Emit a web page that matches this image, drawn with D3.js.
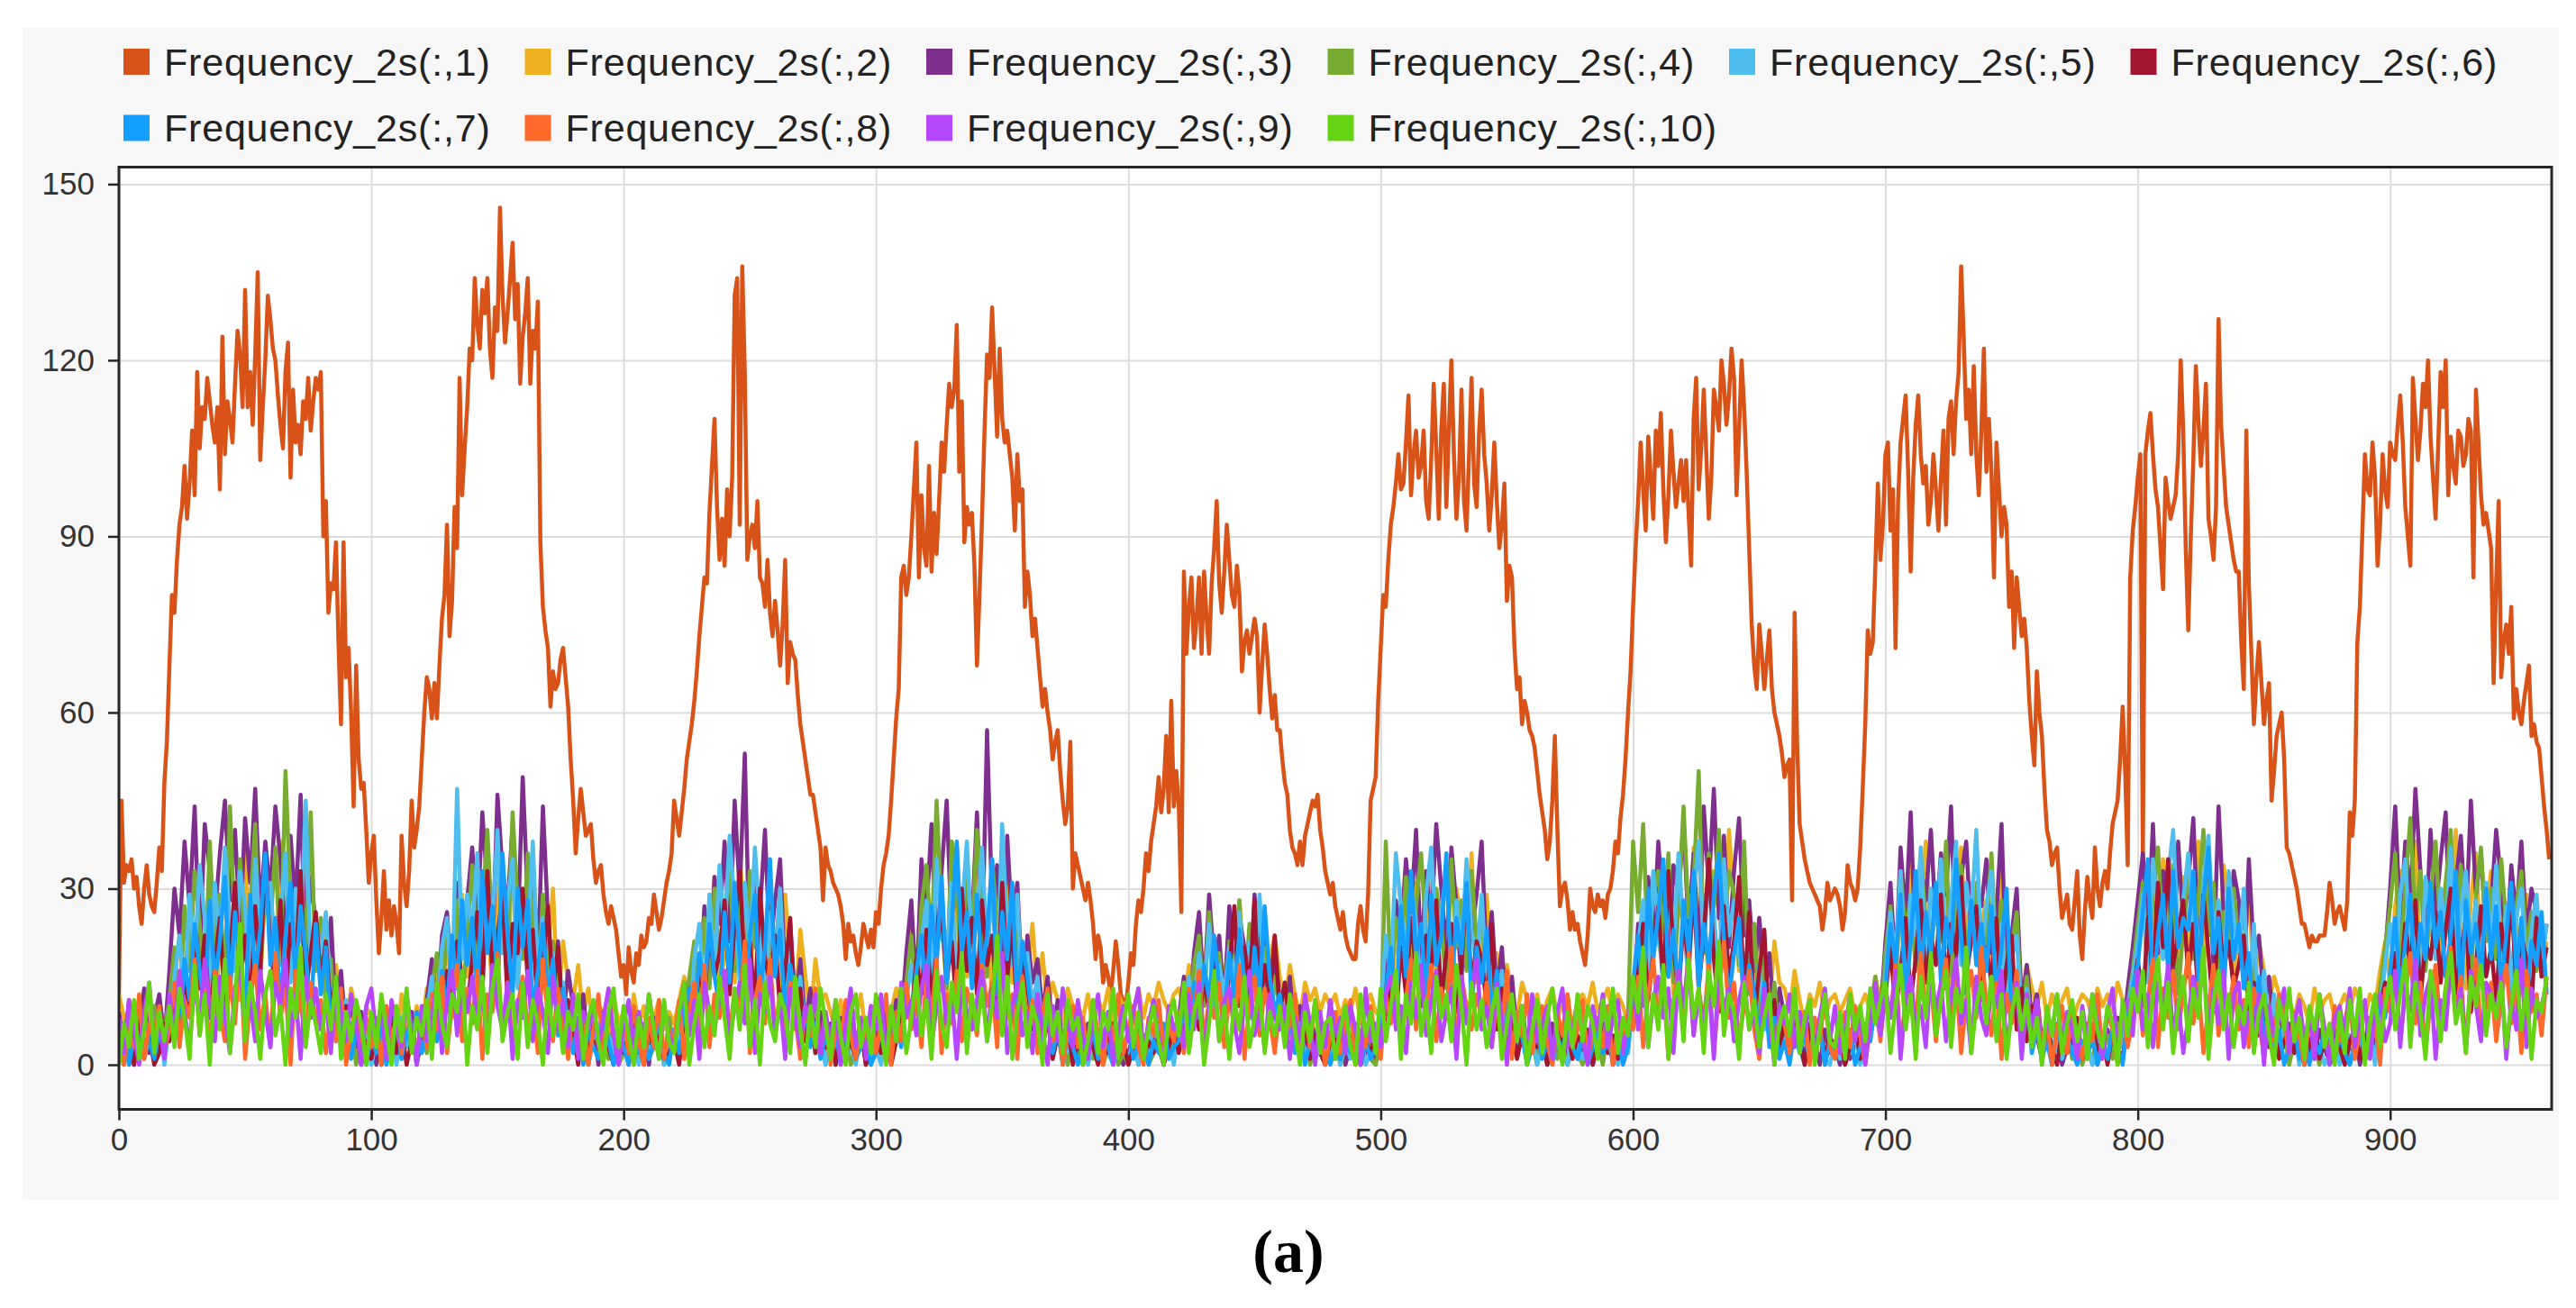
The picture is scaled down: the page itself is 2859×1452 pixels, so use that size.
<!DOCTYPE html>
<html>
<head>
<meta charset="utf-8">
<script src="https://cdn.jsdelivr.net/npm/d3@7"></script>
<style>
  html, body { margin: 0; padding: 0; background: #fff; }
  svg { display: block; }
</style>
</head>
<body>
<svg id="chart" width="2859" height="1452"></svg>
<script>
// ==========================================
// DATA
// ==========================================

const seriesNames = [
    "Frequency_2s(:,1)", "Frequency_2s(:,2)", "Frequency_2s(:,3)", "Frequency_2s(:,4)", "Frequency_2s(:,5)",
    "Frequency_2s(:,6)", "Frequency_2s(:,7)", "Frequency_2s(:,8)", "Frequency_2s(:,9)", "Frequency_2s(:,10)"
];
const seriesColors = [
    "#D95319", "#EDB120", "#7E2F8E", "#77AC30", "#4DBEEE",
    "#A2142F", "#139FFF", "#FF6929", "#B746FF", "#64D413"
];
const xTicks = [0, 100, 200, 300, 400, 500, 600, 700, 800, 900];
const yTicks = [0, 30, 60, 90, 120, 150];
const X_MAX = 964;
const Y_MIN = -7.6, Y_MAX = 152.9;
// column 1 is read at every sample, the others at every 2nd sample
const SMALL_STEP = 2;

const freq1 = [
12,45,31,34,33,35,30,32,27,24, 30,34,29,27,26,31,37,33,48,55,
68,80,77,86,92,95,102,93,99,108, 97,118,105,112,110,117,113,109,106,112,
98,124,104,113,110,106,116,125,121,112, 132,112,118,109,121,135,103,112,120,131,
127,122,120,114,109,105,118,123,100,115, 106,109,104,113,110,117,108,113,117,115,
118,90,96,77,82,81,89,72,58,89, 66,71,60,44,68,52,47,48,40,31,
36,39,28,19,25,33,23,28,22,27, 24,19,39,31,27,33,45,37,40,44,
52,60,66,64,59,65,59,68,76,80, 92,73,79,95,88,117,97,105,112,122,
120,134,126,122,132,128,134,122,117,129, 125,146,131,123,128,134,140,127,133,116,
124,128,134,116,125,122,130,89,78,74, 71,61,67,64,65,69,71,66,61,52,
45,36,42,47,43,39,40,41,35,31, 33,34,29,26,24,27,25,23,19,15,
17,12,20,16,14,19,17,22,20,21, 25,24,29,26,23,25,28,31,33,36,
45,42,39,43,47,52,55,58,62,67, 73,78,83,82,94,102,110,95,86,93,
85,98,90,100,131,134,92,136,118,86, 90,92,88,96,83,82,78,86,77,73,
79,74,68,75,86,65,72,70,69,63, 58,55,52,49,46,46,43,40,37,28,
37,34,33,31,30,29,27,24,18,24, 21,22,19,17,20,24,22,20,23,20,
26,24,30,34,36,39,45,52,59,64, 83,85,80,83,90,98,106,83,97,88,
85,102,84,94,87,96,106,101,109,116, 112,115,126,101,113,89,95,92,94,85,
68,80,93,108,121,117,129,118,107,122, 110,106,108,104,100,91,104,96,98,78,
84,80,73,76,71,66,61,64,60,57, 52,55,57,50,45,41,44,55,30,36,
34,32,30,28,31,28,24,18,22,20, 14,17,15,12,16,21,17,12,11,10,
14,19,17,24,28,26,30,36,33,38, 41,44,49,43,47,56,43,62,44,50,
44,26,84,70,78,83,71,76,83,70, 84,76,70,82,88,96,82,77,84,92,
86,80,78,85,80,67,72,74,70,73, 76,73,60,68,75,70,64,59,63,57,
57,52,48,46,40,37,36,34,38,34, 39,41,43,45,44,46,40,37,33,31,
29,31,27,25,23,26,22,20,19,18, 18,24,27,23,21,29,45,47,49,62,
71,80,78,86,92,95,99,104,98,99, 106,114,97,104,108,100,102,108,96,93,
103,116,105,93,108,116,95,108,120,104, 93,100,115,96,91,104,117,99,95,108,
115,104,99,91,97,106,96,88,92,99, 79,85,83,71,64,66,58,62,60,57,
56,54,50,46,43,40,35,38,45,56, 40,27,30,31,28,23,26,23,24,21,
19,17,22,30,27,26,29,27,28,25, 29,30,33,38,36,42,46,52,60,67,
78,88,96,106,98,91,107,100,93,108, 102,111,98,89,97,108,101,95,99,103,
96,103,94,85,110,117,98,105,115,104, 93,100,115,112,108,120,116,109,114,122,
117,97,108,120,112,101,88,75,68,64, 75,70,64,69,74,64,60,58,56,53,
49,51,52,28,77,55,41,38,35,33, 31,30,29,28,27,23,26,31,28,29,
30,29,27,23,26,34,31,30,28,30, 37,47,58,74,70,72,85,99,86,92,
104,106,91,98,71,96,106,110,114,101, 84,100,109,114,104,99,102,92,96,104,
98,91,100,108,92,110,113,104,113,118, 136,124,110,115,104,119,104,97,108,122,
101,110,101,83,106,98,90,95,92,78, 84,71,83,78,73,76,71,62,56,51,
67,60,56,47,40,38,34,36,37,30, 25,27,29,24,23,28,33,22,18,26,
32,28,25,37,30,27,31,33,30,36, 41,43,45,52,61,50,34,83,91,95,
100,104,35,104,108,111,104,98,95,88, 81,100,96,93,95,97,104,120,108,88,
74,90,103,119,110,102,108,116,93,90, 86,95,127,109,102,95,92,89,86,84,
84,72,64,108,82,70,58,66,72,65, 58,62,65,45,50,56,58,60,52,37,
36,34,32,30,27,24,24,22,20,22, 21,21,22,22,22,26,31,28,24,26,
27,25,23,28,43,39,45,72,78,91, 104,98,97,106,100,85,92,104,98,95,
106,104,103,109,114,106,95,90,85,117, 110,103,108,116,112,120,107,100,93,105,
118,112,120,97,107,102,99,108,107,102, 104,110,108,83,115,106,97,92,94,91,
88,65,82,96,66,72,75,70,78,59, 64,60,58,62,65,68,56,58,55,54,
49,44,40,35
];

const freq2 = [
12,8,5,10,3,7,9,4,11,6, 8,14,22,10,27,18,31,12,24,9, 20,33,15,26,11,36,19,28,14,30, 25,12,38,21,16,29,9,34,18,24,
15,22,8,17,11,6,13,9,5,10, 8,4,11,6,9,3,12,7,5,10, 6,13,9,18,12,24,8,20,29,15, 22,35,17,28,11,31,26,14,38,20,
27,16,33,12,24,19,30,10,21,14, 11,17,8,13,6,10,9,5,12,7, 9,4,12,7,10,3,8,11,6,9, 7,11,15,9,21,13,26,17,32,12,
19,28,14,36,22,11,30,25,16,27, 21,13,29,17,10,23,15,8,18,11, 12,9,6,11,4,10,8,12,5,9, 7,10,4,9,13,8,18,25,14,31,
22,16,34,27,12,38,20,29,15,24, 33,18,26,11,30,21,37,14,25,19, 16,24,12,19,9,14,11,7,13,10, 10,8,12,6,11,9,13,7,12,10,
11,9,13,8,12,10,14,11,9,12, 13,10,17,12,21,15,26,11,19,14, 23,12,28,16,20,11,25,14,18,22, 15,10,17,12,8,14,11,13,9,12,
10,12,8,11,9,13,7,10,12,9, 8,15,11,22,17,28,13,31,19,25, 34,16,27,21,12,30,24,18,36,14, 22,29,13,19,10,17,12,8,14,11,
9,12,7,11,13,8,10,12,6,11, 12,10,14,9,11,13,8,12,10,7, 11,19,26,14,32,21,17,35,12,28, 24,15,37,20,29,13,33,26,18,40,
27,16,31,22,12,25,18,10,21,14, 13,9,16,11,7,12,10,14,8,11, 12,9,11,13,8,10,12,9,15,11, 18,24,13,30,21,35,16,27,38,19,
29,22,33,14,26,37,20,31,17,24, 28,15,23,34,12,20,26,11,17,13, 10,14,8,12,9,11,13,7,10,12, 11,8,13,10,12,9,14,11,8,16,
22,30,17,26,14,35,21,28,12,32, 19,25,38,16,29,22,11,34,27,15, 24,18,30,13,21,16,10,15,12,9, 11,8,12,10,7,13,9,11,12,8,
10,12,9,13,11,8,12,10,16,21, 14,27,33,19,24,38,16,29,22,35, 18,31,25,40,21,13,28,36,17,26, 33,20,27,15,30,24,12,29,19,23,
16,21
];

const freq3 = [
9,3,11,0,6,13,2,8,12,4, 16,30,22,38,27,44,19,41,33,25, 36,45,28,40,23,42,31,47,26,38, 29,44,35,21,39,27,46,18,32,24,
20,13,25,8,16,5,11,3,9,2, 6,0,8,3,10,1,7,4,9,0, 5,11,18,9,22,26,14,31,20,28, 37,24,43,30,19,46,33,27,41,22,
49,28,35,17,44,25,13,21,8,16, 10,4,12,2,7,0,9,3,6,1, 4,0,7,2,5,0,8,3,1,6, 3,9,14,6,20,11,27,16,32,24,
38,21,45,29,53,17,33,26,40,19, 28,35,15,24,10,18,7,13,4,9, 2,6,0,8,3,5,1,7,0,4, 6,2,9,4,11,7,19,28,12,35,
26,41,18,33,45,22,37,15,30,24, 43,19,57,27,34,16,39,23,31,12, 22,14,18,9,15,6,11,3,8,2, 5,0,7,2,4,0,6,1,3,0,
2,5,0,4,1,6,3,0,5,2, 8,15,6,19,26,12,29,17,22,10, 27,14,25,20,11,29,16,24,9,18, 12,7,15,4,10,2,8,5,3,6,
4,1,6,0,3,5,0,2,4,1, 7,19,12,28,22,35,26,40,18,33, 24,41,30,19,37,27,14,34,22,29, 38,17,26,12,20,8,15,5,10,3,
6,1,4,0,7,2,5,0,3,1, 2,5,0,3,1,6,0,4,2,7, 9,24,17,32,21,38,26,15,34,29, 41,23,36,18,44,30,47,25,39,20,
33,42,22,28,16,25,11,19,7,13, 8,3,10,5,1,7,4,0,6,2, 3,0,5,1,4,2,6,9,14,8, 21,31,16,37,25,43,19,34,28,40,
24,36,29,44,18,32,38,22,30,27, 35,19,26,41,14,22,30,10,17,8, 12,4,7,1,5,0,3,6,2,4, 1,5,0,3,6,2,8,4,13,20,
28,36,22,41,19,33,27,15,38,24, 31,42,20,29,35,17,44,26,21,33, 28,14,35,19,22,10,15,6,11,3, 7,2,5,0,4,1,6,3,0,2,
5,1,3,6,0,4,8,2,11,19, 30,44,24,38,28,47,33,21,40,26, 35,43,18,31,39,24,45,29,36,22, 27,40,31,19,34,25,38,22,30,26,
18,24
];

const freq4 = [
4,0,7,2,9,1,5,10,3,6, 11,20,8,27,16,33,24,12,38,19, 29,14,44,22,35,18,26,41,15,31, 23,37,17,50,28,12,32,20,43,16,
25,9,18,4,12,2,7,0,5,1, 3,8,0,6,2,9,1,4,7,0, 6,2,13,19,8,24,15,28,11,21, 34,17,26,40,22,13,31,19,43,27,
18,36,24,12,29,15,21,8,13,4, 7,2,9,0,5,3,8,1,6,0, 2,6,0,4,7,1,3,5,0,8, 3,10,6,15,21,9,25,13,30,18,
24,35,16,28,12,33,20,27,9,22, 17,25,11,19,6,14,4,9,2,5, 0,4,7,1,5,0,3,6,2,0, 4,1,6,3,9,5,14,22,10,27,
34,20,45,26,13,38,29,17,33,22, 40,27,15,35,24,31,12,28,19,10, 16,8,12,3,9,1,6,4,0,5, 2,0,4,1,6,0,3,5,0,2,
0,3,1,5,0,2,4,0,6,1, 5,12,8,17,22,10,26,14,19,8, 21,15,28,11,24,17,13,20,7,15, 9,14,5,11,3,7,0,4,2,6,
1,4,0,3,5,0,2,6,1,0, 4,38,14,25,19,32,11,27,36,22, 17,30,24,13,35,20,28,16,33,21, 26,12,19,7,14,3,10,5,8,0,
4,0,6,2,5,1,3,0,7,2, 0,5,2,4,0,6,1,3,5,8, 38,26,41,18,29,33,22,36,14,27, 44,25,31,50,19,36,27,40,23,33,
29,17,38,12,24,8,19,5,14,3, 9,1,6,3,0,5,2,7,0,4, 2,5,0,3,6,1,4,9,15,7, 19,27,12,33,22,29,16,36,24,18,
30,21,38,15,27,34,19,25,31,13, 23,36,17,28,11,20,26,8,15,5, 9,3,7,0,5,2,6,1,4,0, 3,0,6,2,5,1,7,3,10,16,
24,31,15,29,37,20,26,34,12,23, 35,18,28,40,22,31,14,26,19,30, 20,27,12,18,8,14,4,10,2,6, 0,4,2,5,1,3,0,6,2,4,
1,5,0,3,6,2,4,7,13,20, 27,36,18,30,42,24,33,16,28,38, 22,31,40,19,34,26,15,29,37,21, 30,18,35,24,13,27,33,20,26,16,
22,19
];

const freq5 = [
2,6,0,4,8,1,5,3,9,0, 7,15,22,11,29,18,34,25,13,31, 20,37,24,16,33,27,12,35,22,28, 31,18,26,36,14,30,21,45,17,24,
19,26,10,15,6,11,3,8,1,5, 0,4,7,2,5,0,8,3,6,1, 4,9,15,7,20,25,12,47,18,29, 23,36,15,31,24,40,19,28,35,13,
27,21,38,16,25,11,19,7,14,3, 8,2,6,0,4,7,1,5,3,0, 5,1,3,0,6,2,4,7,0,3, 2,7,12,5,18,24,10,29,16,34,
22,39,27,14,31,19,37,24,11,26, 18,30,12,21,8,15,4,10,2,6, 0,5,2,7,1,4,0,6,3,1, 3,0,5,2,8,4,11,17,9,21,
28,15,35,22,18,31,12,26,38,20, 25,37,19,30,14,41,22,17,29,11, 19,10,15,5,11,2,7,0,4,1, 3,6,0,4,1,5,2,0,6,3,
1,4,0,5,2,7,3,1,4,0, 6,10,15,8,19,13,24,9,17,12, 20,14,26,11,21,16,29,12,18,8, 13,6,10,3,7,1,5,2,4,0,
2,5,0,4,1,3,6,0,2,5, 9,22,15,36,27,18,31,24,12,29, 37,21,26,33,15,28,19,35,23,17, 29,14,22,9,16,5,11,3,7,1,
5,0,3,6,1,4,2,0,5,3, 1,4,0,6,2,5,3,0,4,2, 11,20,28,16,33,24,13,30,19,36, 23,15,29,38,20,32,26,14,35,22,
28,19,13,24,9,17,6,12,3,8, 5,1,7,3,0,4,2,6,1,0, 4,1,6,2,5,0,3,8,13,6, 15,26,18,33,12,29,22,37,16,30,
24,35,20,28,38,17,31,25,40,19, 27,33,16,24,9,18,22,7,13,4, 8,2,6,0,4,1,5,3,0,2, 4,0,3,5,1,6,2,4,9,15,
21,29,14,35,25,18,32,40,22,28, 36,24,17,31,39,21,28,15,33,25, 19,30,11,24,8,16,5,12,3,7, 2,6,0,4,1,5,3,0,2,4,
0,3,5,1,4,2,6,0,9,17, 24,14,29,35,19,27,11,32,25,18, 30,22,37,16,26,33,20,28,14,31, 21,34,18,27,12,25,30,16,23,29,
17,24
];

const freq6 = [
6,1,4,0,8,3,5,0,2,7, 4,11,6,15,9,20,13,22,8,17, 25,10,18,31,14,22,9,27,16,35, 20,13,28,11,24,17,33,12,19,26,
14,21,9,15,5,10,2,7,0,4, 1,5,0,3,7,2,6,0,4,1, 3,8,5,12,7,16,10,21,14,9, 18,26,12,33,15,22,29,11,24,19,
30,14,23,9,17,27,12,20,6,11, 5,0,8,2,4,1,6,3,0,5, 2,6,1,4,0,7,3,5,1,2, 4,0,8,13,6,17,11,23,15,19,
28,12,24,33,16,21,10,30,18,14, 22,9,16,25,7,13,4,10,2,6, 3,7,0,5,2,4,1,6,0,3, 5,2,7,0,4,9,13,8,18,12,
23,11,19,27,14,21,9,30,16,25, 12,28,17,22,10,31,15,24,8,19, 13,6,10,3,8,1,5,2,7,0, 4,1,6,3,0,5,2,7,1,4,
0,3,6,1,4,2,5,0,3,6, 2,7,4,11,6,15,9,18,12,8, 16,27,10,20,13,28,8,17,11,22, 9,14,6,10,3,7,1,5,2,0,
4,6,1,5,3,7,0,4,2,5, 3,9,14,7,20,12,25,16,10,22, 15,28,11,19,24,9,17,30,13,21, 18,10,24,6,13,3,9,1,5,2,
7,3,5,0,4,8,2,6,1,5, 3,6,0,4,7,2,5,1,3,6, 8,16,24,11,19,27,14,33,20,12, 25,17,30,13,22,35,18,9,27,15,
21,32,12,26,8,16,23,5,11,3, 7,2,9,4,0,6,3,8,1,5, 2,5,0,3,7,1,4,6,9,5, 12,20,9,16,25,11,18,28,14,22,
17,29,13,24,19,32,15,21,27,11, 20,14,25,9,17,22,6,13,4,10, 5,1,7,3,0,6,2,4,8,1, 4,7,2,5,0,6,3,1,7,12,
18,10,25,14,31,20,35,17,22,28, 15,24,12,29,19,9,26,16,21,13, 17,22,8,14,5,11,3,7,1,4, 6,2,5,0,3,7,1,4,2,6,
3,0,4,6,1,5,2,7,10,14, 9,19,13,24,16,28,11,21,18,26, 14,23,30,12,19,25,9,17,27,15, 20,11,24,16,29,13,22,18,10,25,
15,20
];

const freq7 = [
3,7,0,5,2,9,4,1,6,3, 8,13,5,18,11,24,16,9,28,14, 21,32,12,26,18,9,29,15,23,36, 17,25,10,22,31,14,27,19,8,24,
12,20,6,14,3,9,1,6,4,0, 5,2,7,0,4,8,1,6,3,9, 2,6,11,4,16,9,22,13,28,17, 25,10,33,19,27,14,36,22,12,30,
20,28,9,16,24,11,18,5,13,7, 2,8,0,6,3,1,7,4,0,5, 3,0,6,2,5,1,4,7,2,0, 6,2,9,13,7,19,12,24,15,10,
26,14,31,18,9,22,29,12,20,35, 15,23,8,17,12,5,10,3,7,1, 5,2,6,0,4,7,1,3,5,0, 2,6,1,5,8,3,12,7,16,22,
11,27,17,32,14,24,38,19,26,13, 29,16,22,35,12,26,18,31,9,21, 15,7,12,4,9,2,6,0,5,3, 0,4,2,6,1,5,3,0,4,2,
6,1,3,5,0,4,2,7,1,3, 4,9,5,14,8,17,11,22,13,7, 19,10,23,14,8,20,12,27,15,9, 12,5,9,2,6,0,4,1,3,5,
0,3,1,5,2,6,0,4,1,3, 5,12,20,9,27,15,33,18,24,11, 29,17,22,36,13,25,19,31,10,20, 14,23,8,16,4,11,2,7,5,0,
3,6,1,4,0,5,2,7,3,1, 5,0,3,6,2,4,1,5,0,3, 14,22,10,30,18,26,35,15,23,12, 28,19,33,13,24,17,29,36,21,11,
19,25,9,17,12,5,14,3,8,1, 4,0,6,2,5,1,3,7,0,4, 1,5,2,6,0,3,7,4,10,5, 13,24,17,29,11,21,33,15,26,19,
31,14,25,19,35,22,12,28,17,24, 16,27,11,20,30,8,15,5,12,2, 6,1,4,0,7,3,5,2,0,4, 2,5,0,4,1,6,3,0,8,13,
17,26,35,12,22,29,16,33,20,25, 23,33,14,28,37,19,25,11,30,18, 24,13,19,7,15,4,10,2,6,0, 3,7,1,5,0,4,2,6,3,1,
5,2,0,4,7,1,3,6,11,8, 16,25,12,21,29,14,24,18,31,20, 26,15,22,33,11,28,19,24,14,30, 18,27,13,22,31,16,25,10,21,17,
26,12
];

const freq8 = [
5,0,9,3,12,1,7,4,10,2, 6,14,3,11,8,18,5,13,2,16, 9,4,15,7,20,1,11,17,6,12, 3,19,8,13,0,16,10,5,14,7,
11,2,9,4,13,0,6,10,1,8, 3,7,0,10,4,8,2,11,5,1, 9,3,12,6,15,2,10,17,4,13, 7,16,1,12,9,19,5,14,3,10,
15,6,11,2,18,8,4,13,7,1, 10,3,8,0,6,12,2,9,5,1, 7,2,10,4,0,8,3,11,1,6, 4,11,1,9,14,6,17,3,12,8,
16,5,13,9,21,2,11,15,7,18, 6,12,3,14,8,1,10,5,13,2, 9,0,6,3,11,5,1,8,4,10, 2,7,12,0,9,4,14,6,11,3,
15,8,18,2,12,7,16,4,13,9, 5,17,10,14,3,19,8,12,1,15, 7,11,2,9,13,4,8,0,6,10, 3,8,1,11,5,0,9,4,12,2,
6,10,3,0,8,5,11,2,7,4, 9,2,13,7,16,4,11,8,14,3, 12,6,17,1,10,15,5,13,8,2, 10,4,7,12,1,9,3,11,6,0,
5,9,2,7,11,0,6,3,10,4, 1,12,7,16,3,11,18,6,14,9, 17,4,13,8,20,2,15,10,6,12, 8,14,3,11,6,16,1,9,5,12,
2,7,10,4,0,9,5,12,3,6, 11,1,5,8,3,10,0,7,4,9, 6,15,3,12,18,8,14,1,11,16, 9,19,5,13,7,17,2,12,21,8,
14,4,10,16,6,1,12,8,3,9, 7,2,11,5,9,0,8,4,12,3, 1,6,9,3,10,5,0,7,12,4, 13,8,17,3,11,15,6,19,9,14,
4,12,18,7,15,2,11,16,8,20, 10,5,14,1,12,7,16,3,9,6, 11,3,8,0,6,10,2,9,5,1, 7,4,12,2,9,6,0,10,3,8,
15,5,11,18,3,13,8,16,6,12, 19,7,14,2,10,17,5,12,9,15, 6,11,3,13,8,1,10,4,12,7, 2,9,5,0,8,3,11,6,1,10,
4,7,12,1,6,10,3,8,0,13, 9,16,4,12,19,7,14,2,11,17, 6,13,20,8,15,3,12,18,5,10, 14,4,11,17,7,13,2,16,9,12,
5,15
];

const freq9 = [
8,2,11,5,0,9,14,3,7,1, 12,5,16,9,3,14,7,18,10,4, 15,8,2,13,17,6,11,4,16,9, 3,14,10,18,5,12,1,15,8,13,
6,11,2,14,9,4,12,7,0,10, 13,5,9,1,11,7,3,12,6,0, 10,4,8,14,2,11,16,5,13,9, 15,7,12,3,17,10,6,14,1,11,
8,16,4,13,9,2,15,6,11,3, 12,1,9,6,10,3,8,13,5,0, 7,11,2,9,4,12,6,1,10,5, 3,8,13,5,11,1,14,9,6,12,
16,4,10,14,7,18,2,12,9,15, 5,11,1,13,8,3,10,6,12,2, 9,4,11,0,7,13,3,8,1,10, 6,12,2,9,4,14,8,11,5,13,
17,3,10,15,7,12,1,14,9,6, 11,16,4,13,8,19,2,10,14,5, 9,2,12,6,0,10,4,13,7,3, 11,5,1,8,12,3,9,0,6,10,
4,9,13,2,7,11,5,0,10,6, 8,3,12,6,14,1,10,15,4,11, 13,7,2,11,16,5,9,3,12,8, 6,10,1,8,4,12,7,0,9,3,
11,5,8,2,10,6,0,13,4,7, 3,12,15,6,10,2,14,8,17,5, 11,16,4,9,13,1,15,7,12,18, 6,10,3,14,8,0,11,5,9,2,
12,4,7,10,1,9,13,3,6,11, 5,0,10,6,12,3,8,11,2,7, 14,6,17,3,11,15,8,13,2,16, 10,18,5,12,7,14,1,16,9,13,
4,11,15,6,9,2,13,8,0,10, 7,12,3,9,5,11,1,8,13,4, 10,2,6,12,4,9,0,7,14,5, 13,8,16,1,11,15,6,10,3,17,
9,14,4,12,18,7,11,2,15,8, 5,13,10,16,3,9,14,1,12,6, 11,0,8,5,12,3,9,6,1,10, 4,12,7,1,9,13,2,8,11,5,
16,6,12,3,14,9,17,5,11,2, 8,15,10,18,4,13,7,16,1,12, 14,3,9,6,12,0,10,5,8,13, 2,7,11,4,9,1,12,6,0,8,
10,5,13,3,8,11,1,9,12,4, 7,16,3,14,9,18,5,12,15,1, 11,6,17,8,13,2,16,10,4,14, 12,9,15,1,11,6,18,3,13,8,
10,14
];

const freq10 = [
0,7,3,11,1,6,14,2,9,4, 10,3,13,8,1,17,5,12,0,15, 6,18,2,11,24,4,14,9,1,12, 16,5,10,0,13,8,20,3,11,7,
2,12,6,15,1,9,4,11,7,0, 9,3,12,6,0,10,4,13,2,8, 5,11,1,14,7,3,12,9,16,0, 10,6,15,2,13,18,4,9,12,1,
14,3,11,7,0,13,5,10,2,9, 6,12,1,8,11,4,0,9,13,3, 10,5,0,8,3,12,6,1,11,4, 2,9,14,0,7,12,3,10,5,15,
8,1,13,6,17,3,11,0,14,7, 4,12,9,2,15,6,0,10,3,13, 7,1,11,5,0,9,12,3,8,2, 12,6,0,10,4,13,2,8,15,5,
11,1,16,7,3,14,9,19,2,12, 6,13,4,10,22,5,15,1,9,14, 3,10,7,0,12,5,9,2,11,6, 8,0,4,11,2,9,6,13,1,7,
12,3,9,1,6,10,4,0,8,11, 5,14,2,9,12,0,7,16,4,10, 1,11,6,15,3,8,13,2,9,5, 10,3,12,6,0,9,4,11,2,7,
8,1,6,10,3,0,12,5,9,2, 13,4,10,16,1,12,7,19,5,11, 2,15,8,12,4,17,10,0,14,6, 11,3,9,13,1,7,12,4,10,0,
6,11,2,8,13,5,0,9,3,12, 4,10,7,1,11,6,13,2,8,5, 15,9,20,3,12,6,17,1,11,14, 4,18,8,13,2,16,10,21,5,12,
9,1,14,6,11,3,8,12,0,7, 10,5,13,2,8,11,0,6,12,4, 3,9,1,12,6,10,4,13,7,11, 14,2,10,17,6,12,1,15,8,19,
5,11,16,3,13,9,20,2,10,14, 7,15,4,12,1,9,13,6,11,3, 8,0,10,5,12,2,7,11,4,9, 1,12,6,3,10,7,0,11,5,13,
9,16,3,12,18,6,14,2,10,15, 4,13,8,20,1,11,16,6,12,3, 10,7,14,2,9,12,5,0,11,6, 13,4,8,1,10,6,12,3,7,0,
9,2,11,5,13,0,7,12,3,10, 15,6,12,18,3,14,9,1,16,11, 4,13,19,7,11,2,15,10,17,5, 12,8,14,3,10,16,6,13,1,11,
9,15
];

const seriesValues = [freq1, freq2, freq3, freq4, freq5, freq6, freq7, freq8, freq9, freq10];
const seriesSteps = [1, SMALL_STEP, SMALL_STEP, SMALL_STEP, SMALL_STEP, SMALL_STEP, SMALL_STEP, SMALL_STEP, SMALL_STEP, SMALL_STEP];

// ==========================================
// DRAWING
// ==========================================

const W = 2859, H = 1452;
const plot = { left: 132, right: 2832, top: 185.5, bottom: 1231.5 };
const axisColor = "#262626";
const sansFont = "'Liberation Sans', Arial, sans-serif";

const svg = d3.select("#chart");

svg.append("rect").attr("width", W).attr("height", H).attr("fill", "#ffffff");
// grey figure panel
svg.append("rect")
    .attr("x", 25).attr("y", 31)
    .attr("width", 2815).attr("height", 1301)
    .attr("fill", "#f7f7f7");

const x = d3.scaleLinear().domain([0, X_MAX]).range([plot.left, plot.right]);
const y = d3.scaleLinear().domain([Y_MIN, Y_MAX]).range([plot.bottom, plot.top]);

svg.append("rect")
    .attr("x", plot.left).attr("y", plot.top)
    .attr("width", plot.right - plot.left).attr("height", plot.bottom - plot.top)
    .attr("fill", "#ffffff");

// grid lines
svg.append("g")
    .attr("transform", `translate(0,${plot.bottom})`)
    .call(d3.axisBottom(x).tickValues(xTicks).tickSize(-(plot.bottom - plot.top)).tickFormat(""))
    .call(g => g.select(".domain").remove())
    .call(g => g.selectAll("line").attr("stroke", "#dcdcdc").attr("stroke-width", 2));

svg.append("g")
    .attr("transform", `translate(${plot.left},0)`)
    .call(d3.axisLeft(y).tickValues(yTicks).tickSize(-(plot.right - plot.left)).tickFormat(""))
    .call(g => g.select(".domain").remove())
    .call(g => g.selectAll("line").attr("stroke", "#dcdcdc").attr("stroke-width", 2));

// lines, clipped to the axes box
svg.append("clipPath").attr("id", "plot-clip")
    .append("rect")
    .attr("x", plot.left).attr("y", plot.top)
    .attr("width", plot.right - plot.left).attr("height", plot.bottom - plot.top);

const linesG = svg.append("g").attr("clip-path", "url(#plot-clip)");

seriesValues.forEach((vals, k) => {
    const step = seriesSteps[k];
    const line = d3.line()
        .x((d, i) => x(i * step))
        .y(d => y(d));
    linesG.append("path")
        .datum(vals)
        .attr("fill", "none")
        .attr("stroke", seriesColors[k])
        .attr("stroke-width", k === 0 ? 4.5 : 4.5)
        .attr("stroke-linejoin", "round")
        .attr("d", line);
});

// axes
svg.append("g")
    .attr("transform", `translate(0,${plot.bottom})`)
    .call(d3.axisBottom(x).tickValues(xTicks).tickSize(12).tickPadding(9))
    .call(g => g.select(".domain").remove())
    .call(g => g.selectAll("line").attr("stroke", axisColor).attr("stroke-width", 2.5))
    .call(g => g.selectAll("text").attr("fill", "#333").attr("font-size", 35)
        .attr("font-family", sansFont));

svg.append("g")
    .attr("transform", `translate(${plot.left},0)`)
    .call(d3.axisLeft(y).tickValues(yTicks).tickSize(12).tickPadding(15))
    .call(g => g.select(".domain").remove())
    .call(g => g.selectAll("line").attr("stroke", axisColor).attr("stroke-width", 2.5))
    .call(g => g.selectAll("text").attr("fill", "#333").attr("font-size", 35)
        .attr("font-family", sansFont));

// axes box
svg.append("rect")
    .attr("x", plot.left).attr("y", plot.top)
    .attr("width", plot.right - plot.left).attr("height", plot.bottom - plot.top)
    .attr("fill", "none")
    .attr("stroke", axisColor)
    .attr("stroke-width", 3);

// legend: 6 columns, 2 rows
const legend = svg.append("g");
seriesNames.forEach((name, i) => {
    const col = i % 6, row = Math.floor(i / 6);
    const lx = 137 + col * 445.5;
    const ly = 68.5 + row * 73.5;
    legend.append("rect")
        .attr("x", lx).attr("y", ly - 14.5)
        .attr("width", 29).attr("height", 29)
        .attr("fill", seriesColors[i]);
    legend.append("text")
        .attr("x", lx + 45).attr("y", ly)
        .attr("dy", "0.35em")
        .attr("font-family", sansFont)
        .attr("font-size", 43)
        .attr("letter-spacing", 0.8)
        .attr("fill", "#222")
        .text(name);
});

// panel label
svg.append("text")
    .attr("x", 1430).attr("y", 1412)
    .attr("text-anchor", "middle")
    .style("font-family", "'Liberation Serif', 'Times New Roman', serif")
    .style("font-weight", "bold")
    .style("font-size", "68px")
    .attr("fill", "#000")
    .text("(a)");
</script>
</body>
</html>
